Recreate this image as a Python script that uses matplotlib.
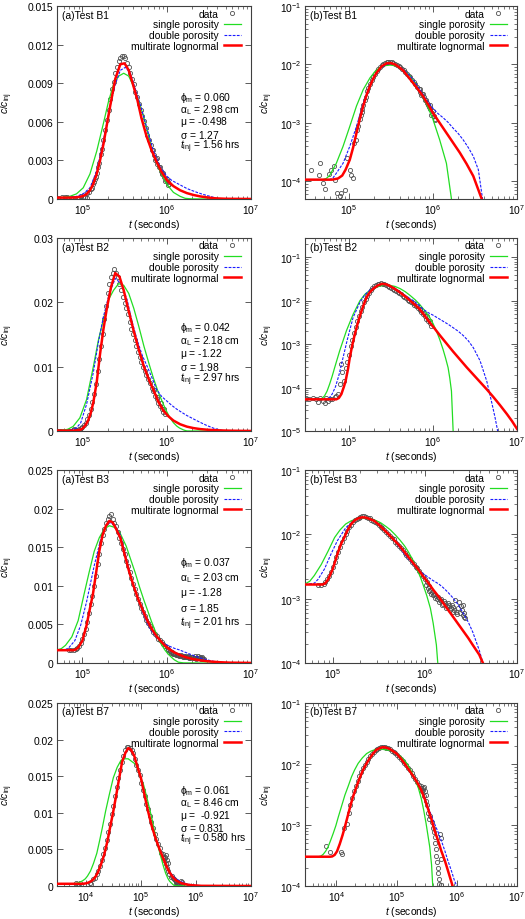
import numpy as np
import matplotlib
matplotlib.use('Agg')
import matplotlib.pyplot as plt
from matplotlib.ticker import FixedLocator, FuncFormatter, NullFormatter, LogLocator

plt.rcParams['font.family'] = ['Liberation Sans', 'DejaVu Sans']
plt.rcParams['mathtext.fontset'] = 'custom'
plt.rcParams['mathtext.rm'] = 'Liberation Sans'
plt.rcParams['mathtext.it'] = 'Liberation Sans:italic'
plt.rcParams['mathtext.default'] = 'regular'
FS = 7.4
plt.rcParams['font.size'] = FS

# all values are log10(t [s]) and log10(c/c_inj)

# ---- Test B1
b1_data_lt = [4.55, 4.64, 4.65, 4.69, 4.71, 4.76, 4.79, 4.82, 4.83, 4.86,
              4.89, 4.91, 4.95, 4.98, 5.01, 5.03, 5.05, 5.06, 5.08, 5.10,
              5.11, 5.13, 5.14, 5.15, 5.16, 5.17, 5.19, 5.20, 5.22, 5.23,
              5.25, 5.27, 5.29, 5.31, 5.33, 5.35, 5.37, 5.39, 5.41, 5.43,
              5.45, 5.47, 5.49, 5.51, 5.53, 5.55, 5.57, 5.59, 5.61, 5.63,
              5.65, 5.67, 5.69, 5.71, 5.73, 5.75, 5.77, 5.79, 5.81, 5.83,
              5.85, 5.87, 5.89, 5.91, 5.93, 5.95, 5.97, 5.99, 6.01, 6.03,
              5.84, 5.86, 5.88, 5.92, 5.94, 5.96, 5.98, 6.00, 6.02]
b1_data_lc = [-3.81, -3.89, -3.69, -4.03, -4.13, -3.87, -3.80, -3.74, -3.97, -4.19,
              -4.25, -4.19, -4.15, -3.60, -3.80, -3.89, -3.94, -3.34, -3.29, -3.12,
              -3.05, -2.93, -2.87, -2.81, -2.76, -2.70, -2.60, -2.55, -2.46, -2.41,
              -2.34, -2.27, -2.21, -2.16, -2.11, -2.07, -2.04, -2.01, -1.99, -1.97,
              -1.96, -1.955, -1.955, -1.96, -1.975, -1.99, -2.01, -2.03, -2.05, -2.08,
              -2.10, -2.13, -2.16, -2.19, -2.22, -2.26, -2.30, -2.34, -2.38, -2.42,
              -2.47, -2.51, -2.56, -2.61, -2.66, -2.72, -2.77, -2.83, -2.88, -2.93,
              -2.42, -2.52, -2.50, -2.60, -2.70, -2.70, -2.86, -2.80, -2.95]
b1_single_lt = [4.47, 4.69, 4.73, 4.77, 4.85, 4.93, 5.01, 5.09, 5.17, 5.25, 5.31, 5.37, 5.43,
                5.49, 5.55, 5.61, 5.67, 5.73, 5.79, 5.84, 5.92, 6.00, 6.08, 6.16, 6.22,
                6.30, 6.50, 7.00]
b1_single_lc = [-3.97, -3.97, -3.95, -3.90, -3.69, -3.40, -3.06, -2.71, -2.43, -2.23, -2.12, -2.05, -2.02,
                -2.01, -2.02, -2.06, -2.12, -2.20, -2.32, -2.46, -2.66, -2.94, -3.29, -3.69, -4.30,
                -5.00, -6.50, -9.00]
b1_double_lt = [4.47, 4.77, 4.81, 4.85, 4.93, 5.01, 5.09, 5.17, 5.25, 5.33, 5.39, 5.45, 5.51,
                5.57, 5.63, 5.69, 5.76, 5.84, 5.92, 6.00, 6.06, 6.12, 6.18, 6.24, 6.30,
                6.36, 6.42, 6.48, 6.54, 6.59, 6.65, 7.00]
b1_double_lc = [-3.97, -3.97, -3.94, -3.86, -3.69, -3.40, -3.06, -2.66, -2.34, -2.14, -2.05, -2.00, -1.99,
                -2.01, -2.07, -2.14, -2.25, -2.42, -2.60, -2.75, -2.84, -2.91, -2.99, -3.09, -3.18,
                -3.29, -3.42, -3.57, -3.80, -4.30, -5.00, -8.00]
b1_multi_lt = [4.47, 4.80, 4.87, 4.92, 4.96, 5.01, 5.05, 5.09, 5.13, 5.17, 5.21, 5.25, 5.29,
               5.33, 5.39, 5.45, 5.50, 5.55, 5.60, 5.65, 5.70, 5.76, 5.82, 5.88, 5.94,
               6.00, 6.08, 6.16, 6.24, 6.32, 6.40, 6.48, 6.58, 6.70, 7.00]
b1_multi_lc = [-3.97, -3.97, -3.95, -3.90, -3.80, -3.63, -3.42, -3.17, -2.93, -2.71, -2.52, -2.37, -2.24,
               -2.14, -2.03, -1.98, -1.977, -2.00, -2.05, -2.11, -2.20, -2.31, -2.42, -2.54, -2.68,
               -2.83, -3.00, -3.17, -3.34, -3.51, -3.70, -3.91, -4.30, -4.75, -6.00]

# ---- Test B2
b2_data_lt = [4.49, 4.53, 4.57, 4.61, 4.63, 4.66, 4.69, 4.71, 4.73, 4.75,
              4.78, 4.80, 4.83, 4.85, 4.87, 4.89, 4.90, 4.92, 4.94, 4.96,
              4.98, 5.00, 5.02, 5.04, 5.06, 5.08, 5.10, 5.12, 5.14, 5.16,
              5.18, 5.20, 5.22, 5.24, 5.26, 5.28, 5.30, 5.32, 5.34, 5.36,
              5.38, 5.40, 5.42, 5.44, 5.46, 5.48, 5.50, 5.52, 5.54, 5.56,
              5.58, 5.60, 5.62, 5.64, 5.66, 5.68, 5.70, 5.72, 5.74, 5.76,
              5.78, 5.80, 5.82, 5.84, 5.86, 5.88, 5.90, 5.92, 5.94, 5.96, 5.98,
              5.85, 5.89, 5.93, 5.97]
b2_data_lc = [-4.25, -4.26, -4.24, -4.26, -4.33, -4.24, -4.30, -4.36, -4.23, -4.32,
              -4.27, -4.26, -4.22, -4.20, -4.15, -3.92, -3.45, -3.65, -3.85, -3.55,
              -3.40, -3.25, -3.05, -2.90, -2.74, -2.60, -2.46, -2.35, -2.24, -2.14,
              -2.03, -1.95, -1.88, -1.82, -1.76, -1.71, -1.67, -1.64, -1.62, -1.61,
              -1.60, -1.61, -1.62, -1.64, -1.66, -1.68, -1.70, -1.72, -1.74, -1.77,
              -1.80, -1.82, -1.85, -1.88, -1.91, -1.94, -1.97, -2.00, -2.03, -2.06,
              -2.09, -2.13, -2.17, -2.21, -2.26, -2.31, -2.36, -2.41, -2.46, -2.52, -2.58,
              -2.20, -2.28, -2.36, -2.47]
b2_single_lt = [4.47, 4.65, 4.68, 4.71, 4.74, 4.77, 4.80, 4.83, 4.89, 4.97, 5.05, 5.13, 5.19,
                5.25, 5.31, 5.37, 5.43, 5.49, 5.55, 5.61, 5.67, 5.73, 5.79, 5.84, 5.90,
                5.96, 6.00, 6.04, 6.08, 6.12, 6.15, 6.18, 6.20, 6.22, 6.24, 6.30, 7.00]
b2_single_lc = [-4.27, -4.27, -4.25, -4.19, -4.08, -3.92, -3.74, -3.54, -3.15, -2.69, -2.31, -2.00, -1.85,
                -1.76, -1.69, -1.66, -1.64, -1.645, -1.67, -1.72, -1.79, -1.88, -1.98, -2.08, -2.22,
                -2.38, -2.52, -2.69, -2.89, -3.12, -3.32, -3.54, -3.78, -4.08, -5.00, -7.00, -20.0]
b2_double_lt = [4.47, 4.73, 4.76, 4.80, 4.84, 4.88, 4.93, 4.98, 5.05, 5.13, 5.19, 5.25, 5.32,
                5.39, 5.46, 5.53, 5.59, 5.65, 5.71, 5.77, 5.83, 5.88, 5.94, 6.00, 6.06,
                6.12, 6.18, 6.24, 6.30, 6.36, 6.42, 6.48, 6.56, 6.64, 6.70, 6.74, 6.77,
                6.85, 7.00]
b2_double_lc = [-4.27, -4.27, -4.25, -4.15, -3.98, -3.72, -3.31, -2.90, -2.38, -2.04, -1.86, -1.75, -1.67,
                -1.625, -1.64, -1.69, -1.77, -1.85, -1.93, -2.00, -2.09, -2.19, -2.27, -2.33, -2.40,
                -2.47, -2.54, -2.62, -2.70, -2.80, -2.92, -3.08, -3.38, -3.85, -4.35, -4.70, -5.00,
                -6.00, -8.00]
b2_multi_lt = [4.47, 4.85, 4.88, 4.91, 4.94, 4.96, 4.99, 5.01, 5.04, 5.07, 5.10, 5.13, 5.17,
               5.21, 5.25, 5.29, 5.34, 5.39, 5.44, 5.49, 5.55, 5.61, 5.67, 5.73, 5.79,
               5.84, 5.90, 5.96, 6.02, 6.08, 6.16, 6.24, 6.32, 6.40, 6.48, 6.56, 6.64,
               6.72, 6.80, 6.88, 6.94, 7.00]
b2_multi_lc = [-4.27, -4.27, -4.24, -4.15, -3.98, -3.85, -3.56, -3.31, -3.02, -2.77, -2.55, -2.35, -2.12,
               -1.92, -1.80, -1.72, -1.65, -1.61, -1.62, -1.66, -1.73, -1.81, -1.90, -2.00, -2.10,
               -2.19, -2.34, -2.50, -2.64, -2.79, -2.98, -3.17, -3.35, -3.53, -3.70, -3.87, -4.04,
               -4.22, -4.41, -4.61, -4.77, -4.95]

# ---- Test B3
b3_data_lt = [4.84, 4.87, 4.90, 4.92, 4.94, 4.96, 4.98, 5.00, 5.02, 5.04,
              5.06, 5.08, 5.10, 5.12, 5.14, 5.16, 5.18, 5.20, 5.22, 5.24,
              5.26, 5.28, 5.30, 5.32, 5.34, 5.36, 5.38, 5.40, 5.42, 5.44,
              5.46, 5.48, 5.50, 5.52, 5.54, 5.56, 5.58, 5.60, 5.62, 5.64,
              5.66, 5.68, 5.70, 5.72, 5.74, 5.76, 5.78, 5.80, 5.82, 5.84,
              5.86, 5.88, 5.90, 5.92, 5.94, 5.96, 5.98, 6.00, 6.02, 6.04,
              6.06, 6.08, 6.10, 6.12, 6.14, 6.16, 6.18, 6.20, 6.22, 6.24,
              6.26, 6.28, 6.30, 6.32, 6.33, 6.34, 6.36, 6.37, 6.38, 6.40,
              6.41, 6.42, 6.43,
              6.01, 6.03, 6.05, 6.07, 6.09, 6.11, 6.13, 6.15, 6.17, 6.19,
              6.21, 6.23, 6.25, 6.27, 6.29, 6.31, 6.35, 6.39, 6.44, 6.415]
b3_data_lc = [-2.78, -2.79, -2.77, -2.74, -2.70, -2.65, -2.58, -2.51, -2.43, -2.35,
              -2.27, -2.19, -2.12, -2.06, -2.00, -1.95, -1.89, -1.85, -1.81, -1.78,
              -1.76, -1.74, -1.73, -1.72, -1.715, -1.73, -1.74, -1.75, -1.77, -1.79,
              -1.81, -1.83, -1.85, -1.88, -1.90, -1.93, -1.96, -1.99, -2.02, -2.05,
              -2.08, -2.12, -2.15, -2.18, -2.22, -2.25, -2.29, -2.32, -2.36, -2.39,
              -2.43, -2.46, -2.50, -2.53, -2.57, -2.61, -2.65, -2.69, -2.74, -2.80,
              -2.86, -2.90, -2.93, -2.96, -2.98, -3.02, -3.04, -3.08, -3.06, -3.12,
              -3.10, -3.15, -3.13, -3.17, -3.02, -3.20, -3.15, -3.05, -3.22, -3.18,
              -3.26, -3.23, -3.28,
              -2.78, -2.83, -2.88, -2.92, -2.95, -2.99, -3.00, -3.05, -3.00, -3.10,
              -3.03, -3.14, -3.07, -3.18, -3.10, -3.20, -3.24, -3.12, -3.30, -3.10]
b3_single_lt = [4.70, 4.75, 4.80, 4.875, 4.95, 5.02, 5.08, 5.14, 5.20, 5.26, 5.32, 5.38, 5.44,
                5.52, 5.58, 5.625, 5.68, 5.73, 5.78, 5.82, 5.87, 5.91, 5.95, 5.98, 6.02,
                6.06, 6.09, 6.125, 6.14, 6.20, 6.40, 7.00]
b3_single_lc = [-2.77, -2.73, -2.64, -2.47, -2.26, -2.05, -1.93, -1.84, -1.79, -1.76, -1.75, -1.755, -1.77,
                -1.82, -1.88, -1.93, -2.01, -2.09, -2.18, -2.27, -2.40, -2.53, -2.66, -2.78, -2.95,
                -3.15, -3.38, -3.72, -4.00, -4.80, -7.00, -12.0]
b3_double_lt = [4.70, 4.80, 4.84, 4.91, 4.98, 5.05, 5.14, 5.23, 5.29, 5.34, 5.40, 5.45, 5.50,
                5.55, 5.60, 5.66, 5.72, 5.77, 5.82, 5.875, 5.93, 5.98, 6.04, 6.09, 6.15,
                6.20, 6.25, 6.30, 6.36, 6.41, 6.47, 6.52, 6.56, 6.59, 6.63, 6.70, 7.00]
b3_double_lc = [-2.78, -2.76, -2.70, -2.54, -2.31, -2.10, -1.90, -1.78, -1.745, -1.74, -1.755, -1.78, -1.84,
                -1.91, -1.99, -2.08, -2.19, -2.29, -2.38, -2.47, -2.55, -2.61, -2.67, -2.72, -2.77,
                -2.83, -2.90, -2.98, -3.09, -3.21, -3.36, -3.52, -3.68, -3.80, -4.00, -4.40, -6.50]
b3_multi_lt = [4.70, 4.89, 4.92, 4.95, 5.00, 5.05, 5.09, 5.125, 5.16, 5.20, 5.24, 5.28, 5.32,
               5.36, 5.40, 5.45, 5.50, 5.55, 5.60, 5.66, 5.72, 5.77, 5.82, 5.875, 5.93,
               5.98, 6.04, 6.09, 6.15, 6.20, 6.25, 6.30, 6.36, 6.41, 6.47, 6.52, 6.59,
               6.63, 6.75, 7.00]
b3_multi_lc = [-2.78, -2.78, -2.76, -2.70, -2.54, -2.31, -2.15, -2.05, -1.94, -1.84, -1.78, -1.75, -1.735,
               -1.74, -1.76, -1.79, -1.85, -1.92, -1.99, -2.08, -2.17, -2.26, -2.35, -2.45, -2.55,
               -2.65, -2.76, -2.86, -2.97, -3.07, -3.17, -3.27, -3.39, -3.49, -3.61, -3.72, -3.87,
               -4.00, -4.35, -5.10]

# ---- Test B7
b7_data_lt = [3.83, 3.90, 4.08, 4.10, 4.13, 4.17, 4.20, 4.23, 4.26, 4.29,
              4.32, 4.35, 4.38, 4.41, 4.44, 4.47, 4.50, 4.53, 4.56, 4.59,
              4.62, 4.65, 4.68, 4.71, 4.74, 4.77, 4.80, 4.83, 4.86, 4.89,
              4.92, 4.95, 4.98, 5.01, 5.04, 5.07, 5.10, 5.13, 5.16, 5.19,
              5.22, 5.25, 5.28, 5.31, 5.34, 5.37, 5.40, 5.42, 5.44, 5.46,
              5.48, 5.50, 5.52, 5.54, 5.56, 5.58, 5.60, 5.62, 5.63, 5.64,
              5.65, 5.66, 5.67, 5.68, 5.69, 5.70, 5.71, 5.72, 5.73, 5.74, 5.745,
              5.41, 5.43, 5.45, 5.47, 5.49]
b7_data_lc = [-3.35, -3.44, -3.45, -3.48, -3.05, -2.98, -2.80, -2.68, -2.56, -2.45,
              -2.36, -2.28, -2.20, -2.13, -2.07, -2.01, -1.96, -1.91, -1.87, -1.83,
              -1.80, -1.77, -1.75, -1.73, -1.72, -1.72, -1.725, -1.73, -1.74, -1.76,
              -1.78, -1.80, -1.82, -1.85, -1.88, -1.91, -1.95, -1.98, -2.02, -2.06,
              -2.10, -2.15, -2.19, -2.24, -2.29, -2.35, -2.40, -2.45, -2.42, -2.52,
              -2.60, -2.68, -2.80, -2.90, -2.85, -2.95, -3.05, -3.12, -3.20, -3.30,
              -3.40, -3.50, -3.60, -3.70, -3.78, -3.88, -3.96, -3.15, -3.55, -3.22, -3.99,
              -2.36, -2.40, -2.38, -2.45, -2.50]
b7_single_lt = [3.48, 3.70, 3.74, 3.78, 3.82, 3.86, 3.90, 3.945, 3.99, 4.03, 4.085, 4.14, 4.20,
                4.25, 4.30, 4.36, 4.43, 4.50, 4.57, 4.64, 4.71, 4.77, 4.84, 4.91, 4.98,
                5.05, 5.12, 5.19, 5.25, 5.30, 5.36, 5.41, 5.45, 5.49, 5.52, 5.55, 5.58,
                5.60, 5.65, 5.80, 7.00]
b7_single_lc = [-3.52, -3.52, -3.51, -3.48, -3.43, -3.36, -3.26, -3.14, -3.01, -2.87, -2.69, -2.51, -2.35,
                -2.21, -2.10, -1.99, -1.90, -1.83, -1.79, -1.765, -1.76, -1.76, -1.77, -1.78, -1.82,
                -1.86, -1.93, -2.02, -2.13, -2.24, -2.39, -2.57, -2.76, -2.98, -3.17, -3.36, -3.65,
                -4.00, -4.60, -6.00, -15.0]
b7_double_lt = [3.48, 3.89, 3.93, 3.97, 4.01, 4.055, 4.10, 4.14, 4.18, 4.22, 4.27, 4.33, 4.39,
                4.44, 4.50, 4.55, 4.60, 4.66, 4.72, 4.77, 4.82, 4.88, 4.94, 5.00, 5.07,
                5.13, 5.20, 5.27, 5.34, 5.41, 5.47, 5.52, 5.58, 5.63, 5.69, 5.74, 5.80,
                5.85, 5.91, 5.96, 6.00, 6.10, 7.00]
b7_double_lc = [-3.52, -3.52, -3.515, -3.49, -3.43, -3.31, -3.17, -3.03, -2.88, -2.73, -2.55, -2.38, -2.22,
                -2.10, -1.99, -1.91, -1.84, -1.77, -1.74, -1.725, -1.73, -1.75, -1.79, -1.83, -1.91,
                -1.99, -2.09, -2.19, -2.30, -2.42, -2.56, -2.70, -2.85, -2.98, -3.12, -3.25, -3.42,
                -3.58, -3.75, -3.91, -4.00, -4.40, -9.00]
b7_multi_lt = [3.48, 3.89, 3.93, 3.97, 4.01, 4.055, 4.10, 4.14, 4.18, 4.22, 4.27, 4.33, 4.39,
               4.44, 4.50, 4.55, 4.60, 4.66, 4.72, 4.77, 4.82, 4.88, 4.94, 5.00, 5.07,
               5.13, 5.20, 5.27, 5.34, 5.41, 5.47, 5.52, 5.58, 5.63, 5.69, 5.74, 5.80,
               5.85, 5.93, 6.10, 7.00]
b7_multi_lc = [-3.52, -3.52, -3.515, -3.49, -3.43, -3.31, -3.17, -3.03, -2.88, -2.73, -2.55, -2.38, -2.22,
               -2.10, -1.99, -1.91, -1.84, -1.77, -1.74, -1.725, -1.73, -1.75, -1.79, -1.83, -1.91,
               -1.99, -2.09, -2.19, -2.30, -2.43, -2.58, -2.73, -2.91, -3.09, -3.26, -3.42, -3.58,
               -3.74, -4.00, -4.60, -9.00]

test_names = ['B1', 'B2', 'B3', 'B7']
fit_params = [
    ['0.060', '2.98 cm', '-0.498', '1.27', '1.56 hrs'],
    ['0.042', '2.18 cm', '-1.22', '1.98', '2.97 hrs'],
    ['0.037', '2.03 cm', '-1.28', '1.85', '2.01 hrs'],
    ['0.061', '8.46 cm', ' -0.921', '0.831', '0.580 hrs'],
]
param_symbols = [r'$\phi_{m}$', r'$\alpha_{L}$', r'$\mu$', r'$\sigma$', r'$\mathit{t}_{inj}$']

lin_xlim = [(5e4, 1e7), (5e4, 1e7), (5e4, 1e7), (3e3, 1e7)]
log_xlim = [(3e4, 1e7), (3e4, 1e7), (5e4, 1e7), (3e3, 1e7)]
lin_ylim = [0.015, 0.03, 0.025, 0.025]
lin_yticks = [[0, 0.003, 0.006, 0.009, 0.012, 0.015],
              [0, 0.01, 0.02, 0.03],
              [0, 0.005, 0.01, 0.015, 0.02, 0.025],
              [0, 0.005, 0.01, 0.015, 0.02, 0.025]]
log_ylim = [(5e-5, 1e-1), (1e-5, 0.28), (1e-4, 1e-1), (1e-4, 1e-1)]

curves = [
    (b1_data_lt, b1_data_lc, b1_single_lt, b1_single_lc, b1_double_lt, b1_double_lc, b1_multi_lt, b1_multi_lc),
    (b2_data_lt, b2_data_lc, b2_single_lt, b2_single_lc, b2_double_lt, b2_double_lc, b2_multi_lt, b2_multi_lc),
    (b3_data_lt, b3_data_lc, b3_single_lt, b3_single_lc, b3_double_lt, b3_double_lc, b3_multi_lt, b3_multi_lc),
    (b7_data_lt, b7_data_lc, b7_single_lt, b7_single_lc, b7_double_lt, b7_double_lc, b7_multi_lt, b7_multi_lc),
]

# panel geometry in pixels (top, bottom) and annotation placement
W, H = 525, 920
rows = [(7, 200), (239, 432), (471, 664), (704, 887)]
note_y0 = [0.53, 0.537, 0.525, 0.522]
note_dy = [0.064, 0.067, 0.079, 0.066]

FRAME = '#404040'


def style_axes(ax):
    for s in ax.spines.values():
        s.set_color(FRAME)
        s.set_linewidth(0.8)
    ax.tick_params(which='both', direction='in', top=True, right=True,
                   color=FRAME, labelsize=FS)
    ax.tick_params(which='major', length=4, width=0.6, pad=2.5)
    ax.tick_params(which='minor', length=2, width=0.5)


def draw(ax, k, logy, wpx):
    dlt, dlc, slt, slc, dblt, dblc, mlt, mlc = curves[k]
    p = lambda a: 10.0 ** np.asarray(a)
    ax.plot(p(dlt), p(dlc), 'o', ls='none', mfc='none', mec='#505050', ms=3.0, mew=0.6,
            label='data', zorder=2)
    ax.plot(p(slt), p(slc), color='#22dd22', lw=0.9, label='single porosity', zorder=3)
    ax.plot(p(dblt), p(dblc), color='#1a1aff', lw=0.8, ls=(0, (2.5, 1.2)),
            label='double porosity', zorder=4)
    ax.plot(p(mlt), p(mlc), color='#ff0000', lw=1.8, label='multirate lognormal', zorder=5)
    ax.set_xscale('log')
    if logy:
        ax.set_yscale('log')
    ax.xaxis.set_minor_formatter(NullFormatter())
    ax.legend(loc='upper right', bbox_to_anchor=(1 - 10.0 / wpx, 1 - 2.5 / 193),
              frameon=False, markerfirst=False, numpoints=1,
              handlelength=1.7, handletextpad=0.45, labelspacing=0.08,
              borderaxespad=0, borderpad=0, fontsize=FS)
    ax.set_xlabel(r'$\mathit{t}$ (seconds)', labelpad=0.5)
    ax.set_ylabel(r'$\mathit{c}/\mathit{c}_{inj}$')
    style_axes(ax)


fig = plt.figure(figsize=(W / 100, H / 100), dpi=100)

for k, name in enumerate(test_names):
    top, bot = rows[k]
    # linear panel
    axl = fig.add_axes([57 / W, 1 - bot / H, 194 / W, (bot - top) / H])
    draw(axl, k, False, 194)
    axl.set_xlim(*lin_xlim[k])
    axl.set_ylim(0, lin_ylim[k])
    axl.yaxis.set_major_locator(FixedLocator(lin_yticks[k]))
    axl.yaxis.set_major_formatter(FuncFormatter(lambda v, pos: '0' if v == 0 else f'{v:g}'))
    axl.yaxis.set_label_coords(-0.215, 0.5)
    axl.text(0.025, 0.955, f'(a)Test {name}', transform=axl.transAxes, va='center', ha='left')
    for i, (sym, val) in enumerate(zip(param_symbols, fit_params[k])):
        axl.text(0.635, note_y0[k] - i * note_dy[k], f'{sym} = {val}',
                 transform=axl.transAxes, va='center', ha='left')

    # log panel
    axr = fig.add_axes([305 / W, 1 - bot / H, 212 / W, (bot - top) / H])
    draw(axr, k, True, 212)
    axr.set_xlim(*log_xlim[k])
    axr.set_ylim(*log_ylim[k])
    axr.yaxis.set_major_locator(LogLocator(base=10, numticks=10))
    axr.yaxis.set_minor_formatter(NullFormatter())
    axr.yaxis.set_label_coords(-0.14, 0.5)
    axr.text(0.025, 0.955, f'(b)Test {name}', transform=axr.transAxes, va='center', ha='left')

fig.savefig('out.png', dpi=100)
